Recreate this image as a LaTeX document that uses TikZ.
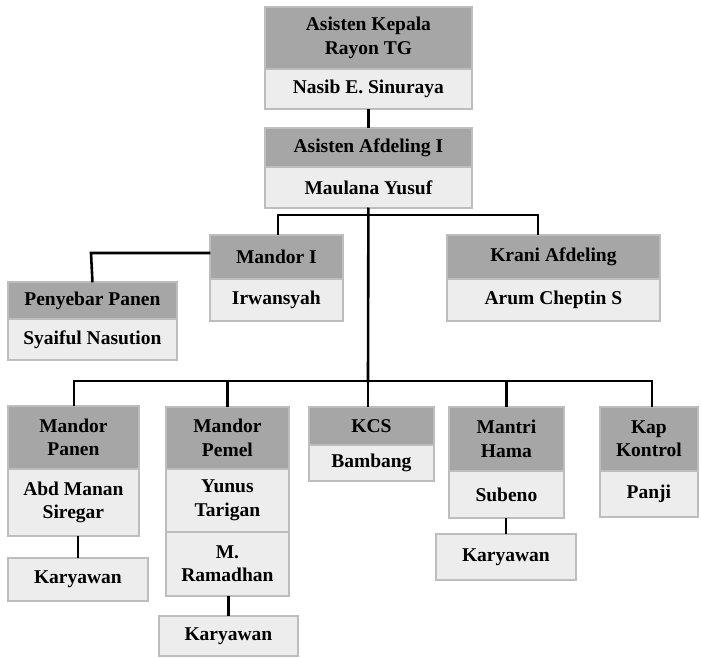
\documentclass[tikz,border=0pt]{standalone}
\usepackage{fontspec}
\setmainfont{Liberation Serif}
\definecolor{hdc}{HTML}{A6A6A6}
\definecolor{nmc}{HTML}{EDEDED}
\definecolor{bordc}{HTML}{BDBDBD}
\newcommand\fmain{\fontsize{19.5bp}{23.5bp}\selectfont\bfseries}
\begin{document}
\begin{tikzpicture}[x=1bp,y=-1bp,
  bxbase/.style={draw=bordc, line width=1.8bp, inner sep=0pt, align=center, anchor=north west, font=\fmain},
  hd/.style={bxbase, fill=hdc},
  nm/.style={bxbase, fill=nmc},
  link/.style={line width=2.6bp, draw=black, line join=miter, line cap=rect}]
\useasboundingbox (0,0) rectangle (701,658);
% junction points of the connectors
\coordinate (j2) at (368,381);
\coordinate (tM1) at (278,215);
\coordinate (tK) at (538,215);
\coordinate (cP) at (91,253);
\coordinate (b1) at (74,381);
\coordinate (b5) at (652,381);
% boxes
\node[hd, minimum width=207bp, minimum height=62bp] (A1h) at (264,6) {Asisten Kepala\\Rayon TG};
\node[nm, minimum width=207bp, minimum height=40bp] (A1n) at (264,68) {Nasib E. Sinuraya};
\node[hd, minimum width=207bp, minimum height=39bp] (A2h) at (264,127) {Asisten Afdeling I};
\node[nm, minimum width=207bp, minimum height=41bp] (A2n) at (264,166) {Maulana Yusuf};
\node[hd, minimum width=133bp, minimum height=44bp] (M1h) at (209,234) {Mandor I};
\node[nm, minimum width=133bp, minimum height=42bp] (M1n) at (209,278) {Irwansyah};
\node[hd, minimum width=213bp, minimum height=44bp] (Kh) at (446,234) {Krani Afdeling};
\node[nm, minimum width=213bp, minimum height=42bp] (Kn) at (446,278) {Arum Cheptin S};
\node[hd, minimum width=169bp, minimum height=37bp] (Ph) at (7,281) {Penyebar Panen};
\node[nm, minimum width=169bp, minimum height=41bp] (Pn) at (7,318) {Syaiful Nasution};
\node[hd, minimum width=131bp, minimum height=63bp] (MPh) at (7,405) {Mandor\\Panen};
\node[nm, minimum width=131bp, minimum height=67bp] (MPn) at (7,468) {Abd Manan\\Siregar};
\node[nm, minimum width=140bp, minimum height=43bp] (MPk) at (7,557) {Karyawan};
\node[hd, minimum width=123bp, minimum height=62bp] (MMh) at (165,406) {Mandor\\Pemel};
\node[nm, minimum width=123bp, minimum height=63bp] (MMn1) at (165,468) {Yunus\\Tarigan};
\node[nm, minimum width=123bp, minimum height=64bp] (MMn2) at (165,531) {M.\\Ramadhan};
\node[nm, minimum width=139bp, minimum height=40bp] (MMk) at (158,615) {Karyawan};
\node[hd, minimum width=125bp, minimum height=38bp] (KCh) at (308,406) {KCS};
\node[nm, minimum width=125bp, minimum height=36bp] (KCn) at (308,444) {Bambang};
\node[hd, minimum width=115bp, minimum height=64bp] (MHh) at (448,406) {Mantri\\Hama};
\node[nm, minimum width=115bp, minimum height=47bp] (MHn) at (448,470) {Subeno};
\node[nm, minimum width=140bp, minimum height=46bp] (MHk) at (435,533) {Karyawan};
\node[hd, minimum width=98bp, minimum height=64bp] (KKh) at (599,406) {Kap\\Kontrol};
\node[nm, minimum width=98bp, minimum height=46bp] (KKn) at (599,470) {Panji};
% connectors
\draw[link] (A1n.south) -- (A2h.north);
\draw[link] (A2n.south) -- (j2);
\draw[link] (M1h.north -| tM1) -- (tM1) -- (tK) -- (Kh.north -| tK);
\draw[link] (M1h.west |- cP) -- (cP) -- (Ph.north);
\draw[link] (MPh.north -| b1) -- (b1) -- (b5) -- (KKh.north -| b5);
\draw[link] (MMh.north) -- (MMh.north |- b1);
\draw[link] (KCh.north -| j2) -- (j2);
\draw[link] (MHh.north) -- (MHh.north |- b1);
\draw[link] (MPn.south -| MPk.north) -- (MPk.north);
\draw[link] (MMn2.south -| MMk.north) -- (MMk.north);
\draw[link] (MHn.south -| MHk.north) -- (MHk.north);
\end{tikzpicture}
\end{document}
